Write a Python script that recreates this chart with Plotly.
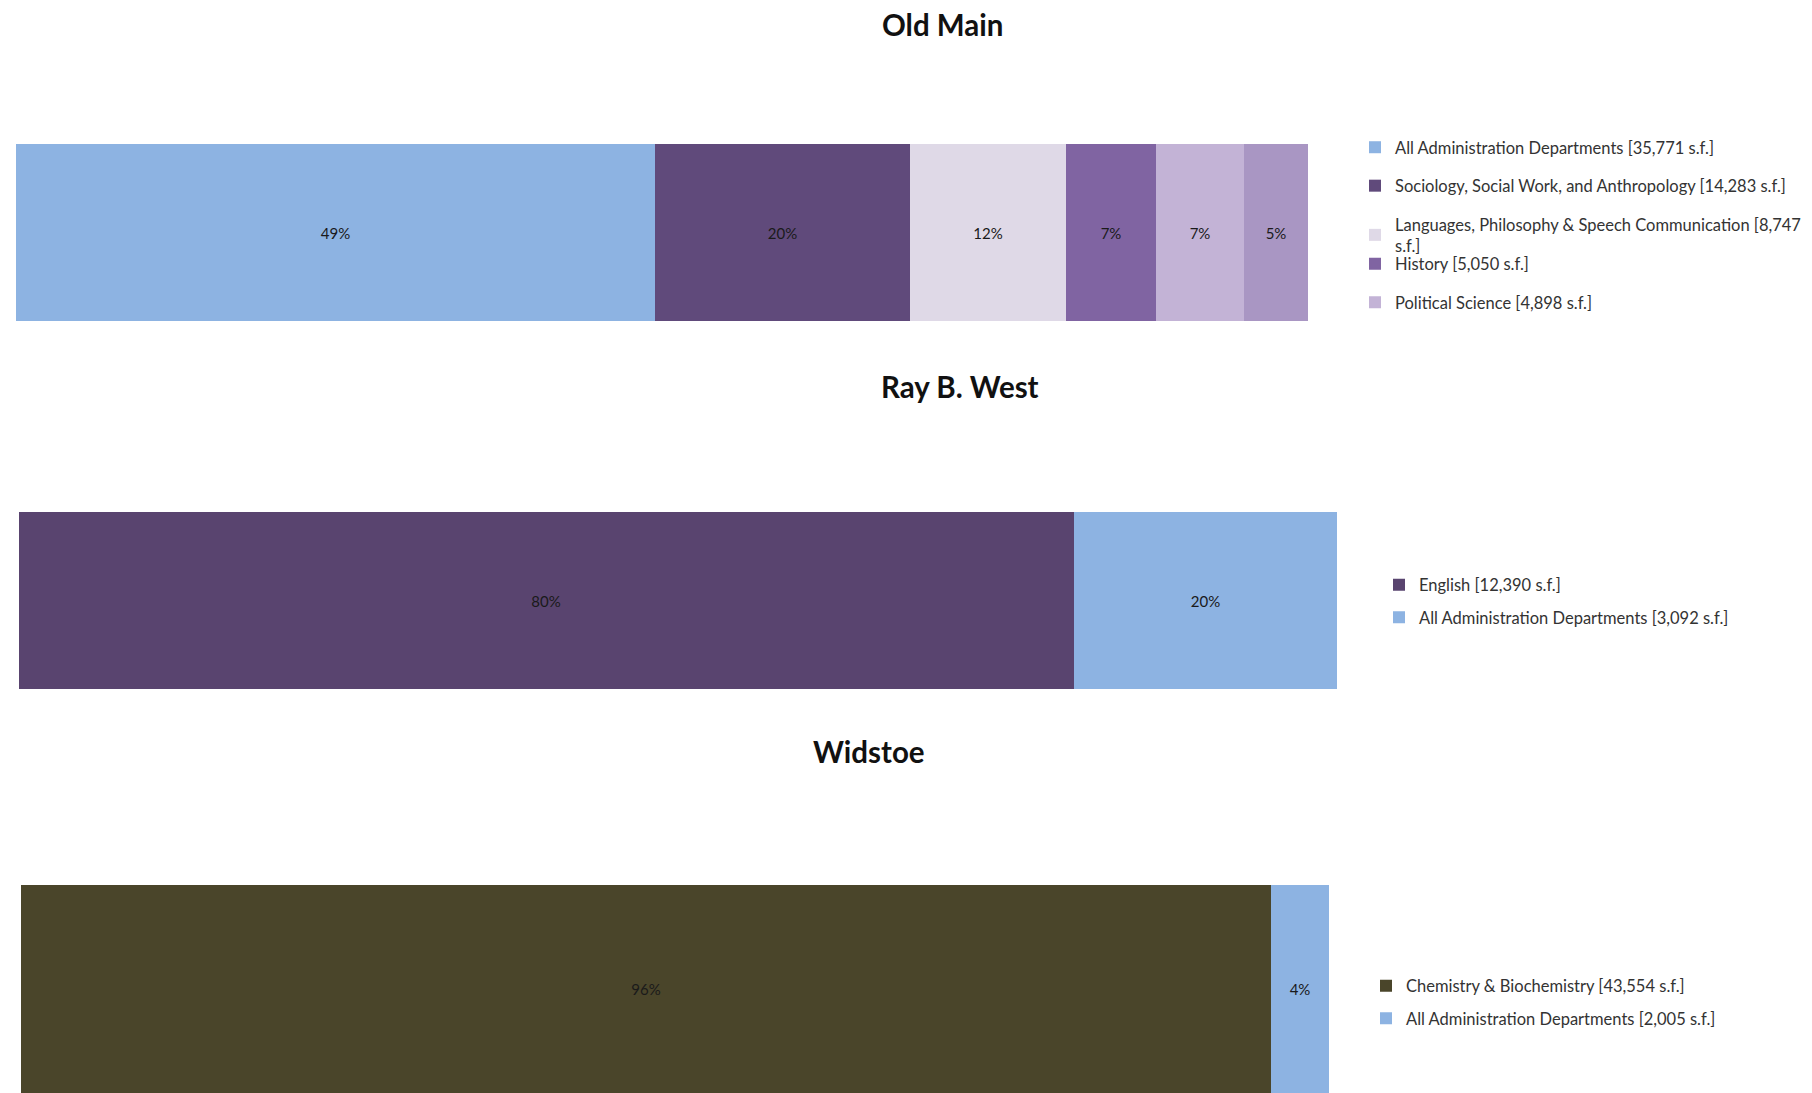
import plotly.graph_objects as go

# ---------------- data ----------------
titles = ["Old Main", "Ray B. West", "Widstoe"]

old_main_depts = ["All Administration Departments",
                  "Sociology, Social Work, and Anthropology",
                  "Languages, Philosophy & Speech Communication",
                  "History",
                  "Political Science",
                  "Other"]
old_main_sf = [35771, 14283, 8747, 5050, 4898, 3600]

ray_west_depts = ["English", "All Administration Departments"]
ray_west_sf = [12390, 3092]

widstoe_depts = ["Chemistry & Biochemistry", "All Administration Departments"]
widstoe_sf = [43554, 2005]

# ---------------- styles ----------------
old_main_colors = ["#8DB3E2", "#604A7B", "#DFD9E7", "#8064A2", "#C3B3D6", "#A996C3"]
ray_west_colors = ["#59446F", "#8DB3E2"]
widstoe_colors = ["#4A452A", "#8DB3E2"]

W, H = 1812, 1093
FONT = "Lato"

def px_x(p):
    return p / W

def px_y(p):
    return 1 - p / H

fig = go.Figure()

def add_chart(depts, sf, colors, idx, legends, hidden=()):
    total = sum(sf)
    axn = "" if idx == 1 else str(idx)
    for i, (d, v, c) in enumerate(zip(depts, sf, colors)):
        label = f"{d} [{v:,} s.f.]"
        if len(label) > 55:
            label = label.replace(" s.f.]", "<br>s.f.]")
        pct = round(v / total * 100)
        fig.add_trace(go.Bar(
            y=[0], x=[v / total * 100], orientation="h", width=1,
            name=label, marker=dict(color=c, line=dict(width=0)),
            text=[f"{pct}%"], textposition="inside", insidetextanchor="middle",
            textangle=0,
            textfont=dict(color="#1A1A1A", size=15, family=FONT),
            xaxis="x" + axn, yaxis="y" + axn,
            legend=legends[i], legendgroup=f"g{idx}_{i}",
            showlegend=i not in hidden,
            hoverinfo="skip",
        ))

add_chart(old_main_depts, old_main_sf, old_main_colors, 1,
          ["legend", "legend", "legend", "legend4", "legend4", "legend4"], hidden=(5,))
add_chart(ray_west_depts, ray_west_sf, ray_west_colors, 2, ["legend2", "legend2"])
add_chart(widstoe_depts, widstoe_sf, widstoe_colors, 3, ["legend3", "legend3"])

axis_common = dict(visible=False, fixedrange=True)
layout = dict(
    width=W, height=H,
    margin=dict(l=0, r=0, t=0, b=0),
    paper_bgcolor="white", plot_bgcolor="white",
    barmode="stack", bargap=0,
    font=dict(family=FONT, color="#222222"),
    xaxis=dict(domain=[px_x(16), px_x(1308)], range=[0, 100], anchor="y", **axis_common),
    yaxis=dict(domain=[px_y(321), px_y(144)], range=[-0.5, 0.5], anchor="x", **axis_common),
    xaxis2=dict(domain=[px_x(18.5), px_x(1337)], range=[0, 100], anchor="y2", **axis_common),
    yaxis2=dict(domain=[px_y(689), px_y(512)], range=[-0.5, 0.5], anchor="x2", **axis_common),
    xaxis3=dict(domain=[px_x(21), px_x(1329)], range=[0, 100], anchor="y3", **axis_common),
    yaxis3=dict(domain=[0, px_y(885)], range=[-0.5, 0.5], anchor="x3", **axis_common),
)

leg_common = dict(font=dict(family=FONT, size=16.5, color="#333333"), bgcolor="rgba(0,0,0,0)",
                  traceorder="grouped", xanchor="left", yanchor="top", itemclick=False,
                  itemdoubleclick=False)
layout["legend"] = dict(x=px_x(1355), y=px_y(130), tracegroupgap=14, **leg_common)
layout["legend4"] = dict(x=px_x(1355), y=px_y(246.5), tracegroupgap=14, **leg_common)
layout["legend2"] = dict(x=px_x(1379), y=px_y(567.5), tracegroupgap=8, **leg_common)
layout["legend3"] = dict(x=px_x(1366), y=px_y(968.5), tracegroupgap=8, **leg_common)

title_pos = [(942, 25), (960, 386), (869, 751)]
layout["annotations"] = [
    dict(text=f"<b>{t}</b>", x=px_x(x), y=px_y(y), xref="paper", yref="paper",
         showarrow=False, xanchor="center", yanchor="middle",
         font=dict(family=FONT, size=29.5, color="#111111"))
    for t, (x, y) in zip(titles, title_pos)
]

fig.update_layout(**layout)
fig.write_html("out.html")
